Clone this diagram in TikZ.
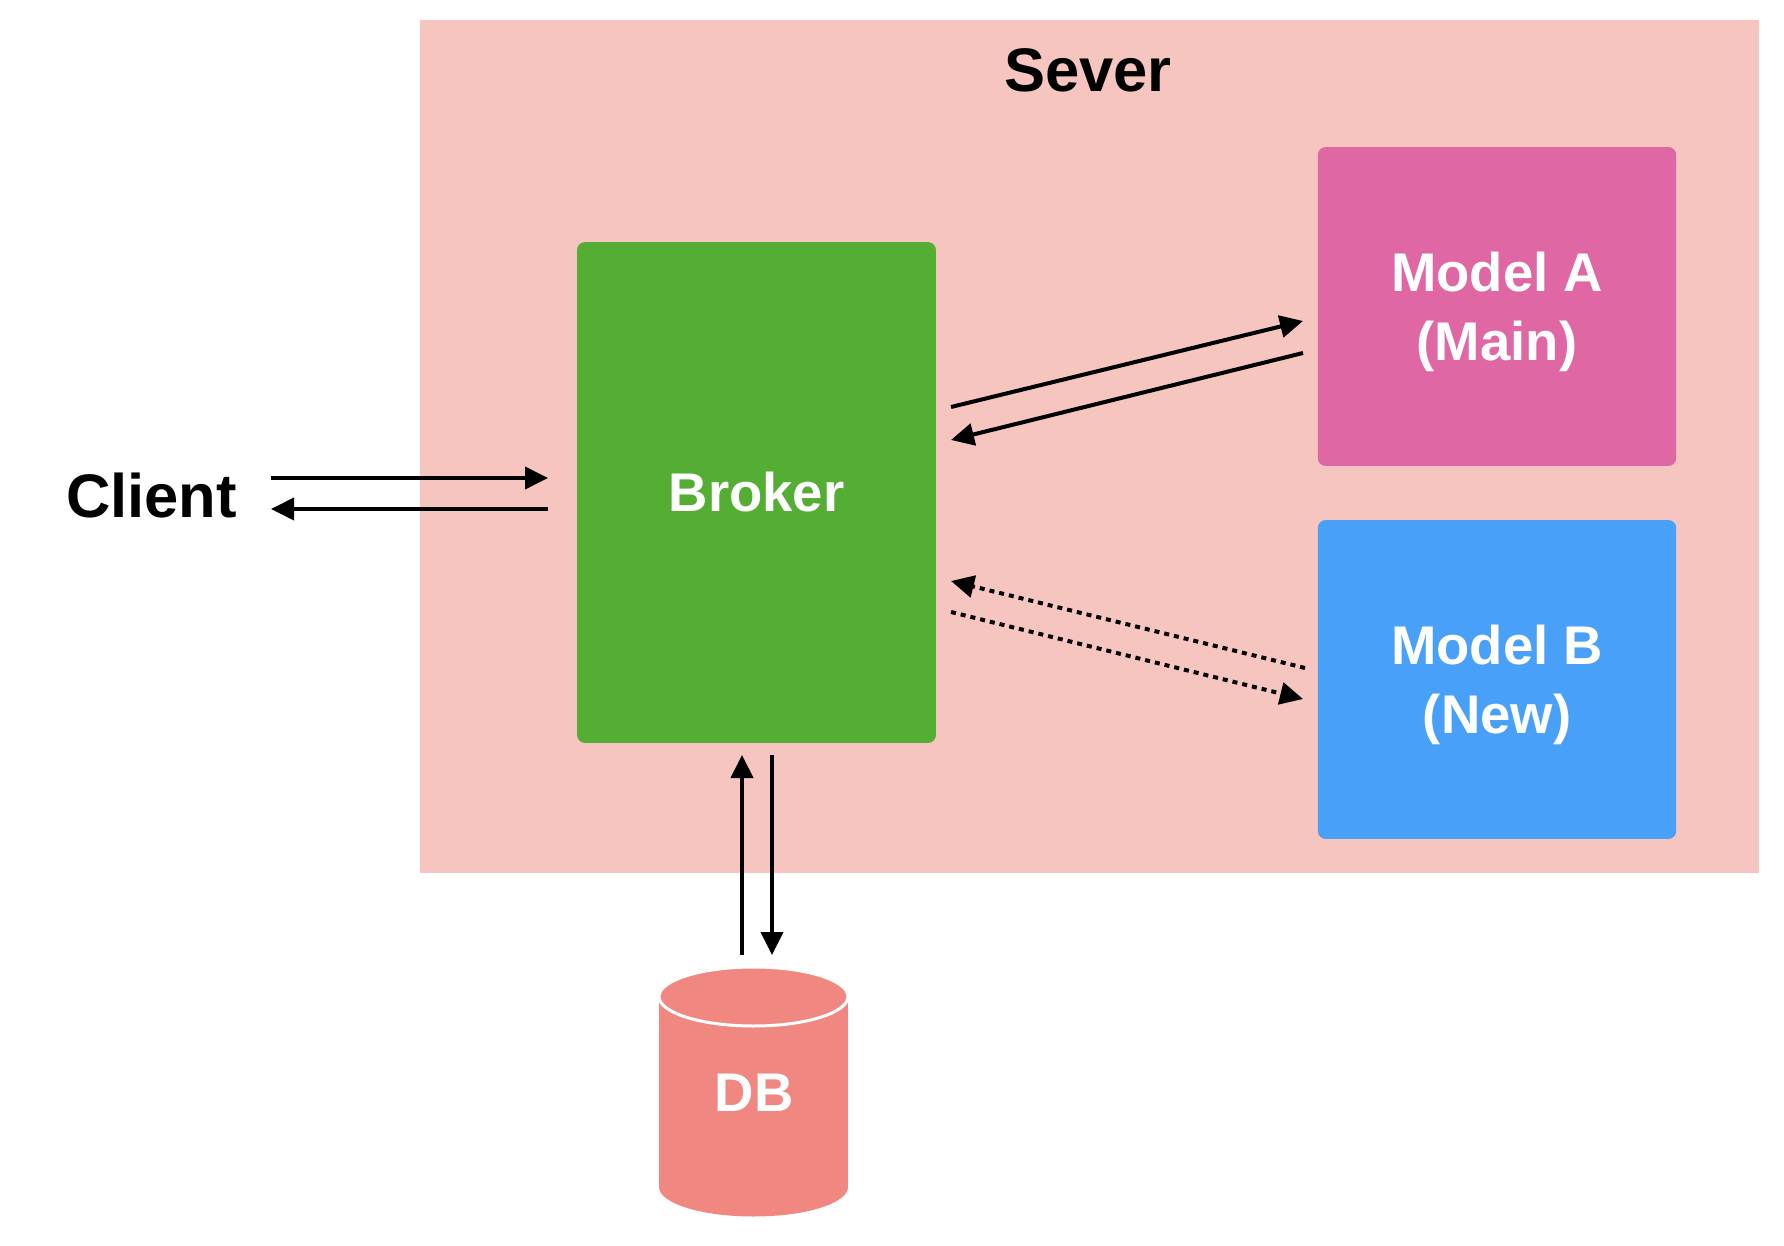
\documentclass[tikz,border=0pt]{standalone}
\usepackage{fontspec}
\setmainfont{Liberation Sans}
\usetikzlibrary{arrows.meta}

\definecolor{serverbg}{RGB}{246,197,192}
\definecolor{brokerfill}{RGB}{85,174,52}
\definecolor{modelafill}{RGB}{223,103,164}
\definecolor{modelbfill}{RGB}{72,160,248}
\definecolor{dbfill}{RGB}{240,135,128}

\begin{document}
\begin{tikzpicture}[
  x=0.02cm, y=-0.02cm,
  box/.style={rounded corners=0.16cm, minimum width=7.17cm, inner sep=0pt,
    text=white, align=center, font=\fontsize{31}{39}\selectfont\bfseries},
  boxtext/.style={inner sep=0pt, text=white, align=center, font=\fontsize{31}{39}\selectfont\bfseries},
  title/.style={inner sep=0pt, anchor=base, font=\fontsize{35}{42}\selectfont\bfseries},
  arrow/.style={line width=0.08cm, -{Triangle[length=0.46cm, width=0.44cm]}},
  dotarrow/.style={arrow, dash pattern=on 0.1cm off 0.1cm}
]
\useasboundingbox (0,0) rectangle (1784,1246);

% Server area
\node[fill=serverbg, minimum width=26.78cm, minimum height=17.06cm, inner sep=0pt] (server) at (1089.5,446.5) {};
\node[title] (servertitle) at (1088,92) {Sever};

% Nodes
\node[title] (client) at (151.5,517) {Client};
\node[box, fill=brokerfill, minimum width=7.18cm, minimum height=10.02cm] (broker) at (756.5,492.5) {Broker};
\node[box, fill=modelafill, minimum height=6.38cm] (modela) at (1497,306.5) {};
\node[boxtext] (modelatext) at (1497,312) {Model A\\(Main)};
\node[box, fill=modelbfill, minimum height=6.38cm] (modelb) at (1497,679.5) {};
\node[boxtext] (modelbtext) at (1497,685) {Model B\\(New)};

% Database
\fill[dbfill] (659,996.5) rectangle (848,1187);
\fill[dbfill] (753.5,1187) ellipse [x radius=94.5, y radius=29.5];
\filldraw[fill=dbfill, draw=white, line width=0.06cm] (753.5,996.5) ellipse [x radius=94.5, y radius=29.5];
\node[boxtext] (db) at (754,1093) {DB};

% Arrow ends
\coordinate (c1) at (271,478);
\coordinate (b1) at (548,478);
\coordinate (c2) at (271,509);
\coordinate (b2) at (548,509);
\coordinate (ba1) at (951,407);
\coordinate (a1) at (1303,321);
\coordinate (ba2) at (951,440);
\coordinate (a2) at (1303,353);
\coordinate (bb1) at (951,581);
\coordinate (mb1) at (1305,668);
\coordinate (bb2) at (951,612);
\coordinate (mb2) at (1303,699);
\coordinate (bd1) at (742,755);
\coordinate (d1) at (742,955);
\coordinate (bd2) at (772,755);
\coordinate (d2) at (772,955);

% Connectors
\draw[arrow] (c1) -- (b1);
\draw[arrow] (b2) -- (c2);
\draw[arrow] (ba1) -- (a1);
\draw[arrow] (a2) -- (ba2);
\draw[dotarrow] (mb1) -- (bb1);
\draw[dotarrow] (bb2) -- (mb2);
\draw[arrow] (d1) -- (bd1);
\draw[arrow] (bd2) -- (d2);

\end{tikzpicture}
\end{document}
